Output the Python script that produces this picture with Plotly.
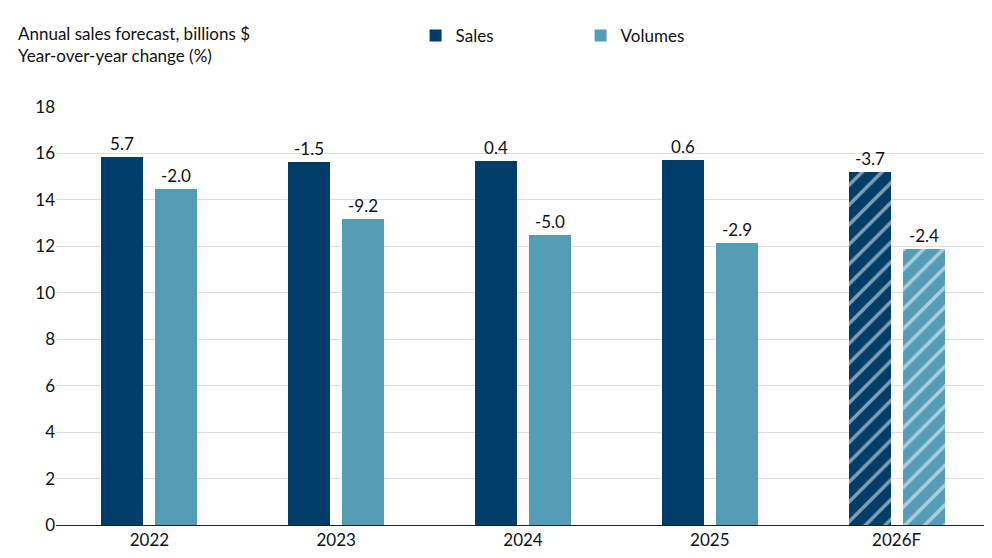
import plotly.graph_objects as go

years = ["2022", "2023", "2024", "2025", "2026F"]
sales = [15.83, 15.62, 15.66, 15.70, 15.2]
volumes = [14.47, 13.16, 12.48, 12.14, 11.88]
sales_yoy = ["5.7", "-1.5", "0.4", "0.6", "-3.7"]
vol_yoy = ["-2.0", "-9.2", "-5.0", "-2.9", "-2.4"]
patterns = ["", "", "", "", "/"]

c_sales = "#003d68"
c_vol = "#559db6"

fig = go.Figure()
fig.add_bar(x=years, y=sales, name="Sales", width=0.225, offset=-0.257,
            marker=dict(color=c_sales, line=dict(width=0),
                        pattern=dict(shape=patterns, fgcolor="white", bgcolor=c_sales, size=14, solidity=0.25, fillmode="overlay")),
            text=sales_yoy, textposition="outside", cliponaxis=False,
            textfont=dict(size=17, color="#111"))
fig.add_bar(x=years, y=volumes, name="Volumes", width=0.225, offset=0.032,
            marker=dict(color=c_vol, line=dict(width=0),
                        pattern=dict(shape=patterns, fgcolor="white", bgcolor=c_vol, size=14, solidity=0.25, fillmode="overlay")),
            text=vol_yoy, textposition="outside", cliponaxis=False,
            textfont=dict(size=17, color="#111"))

fig.update_layout(
    width=992, height=558, margin=dict(l=48, r=10, t=93, b=41),
    plot_bgcolor="white", paper_bgcolor="white",
    font=dict(family="Lato", size=16, color="#111"),
    barmode="overlay",
    legend=dict(orientation="h", x=0.385, y=1.17, yanchor="middle",
                xanchor="left", font=dict(size=17), traceorder="normal",
                entrywidth=120),
    xaxis=dict(showline=True, linecolor="#222", linewidth=1, ticks="", tickfont=dict(size=17),
               showgrid=False),
    yaxis=dict(range=[0, 18], dtick=2, gridcolor="#dddddd", tickfont=dict(size=17),
               zeroline=False, ticks=""),
    showlegend=True,
    bargap=0,
)
fig.add_annotation(x=0, y=1.205, xref="paper", yref="paper", xanchor="left", yanchor="top",
                   text="Annual sales forecast, billions $<br>Year-over-year change (%)",
                   showarrow=False, align="left", font=dict(size=17), xshift=-40)
fig.add_shape(type="line", xref="paper", yref="paper", x0=1, x1=1, y0=0, y1=1,
              line=dict(color="#dddddd", width=1))
fig.write_html("out.html")
